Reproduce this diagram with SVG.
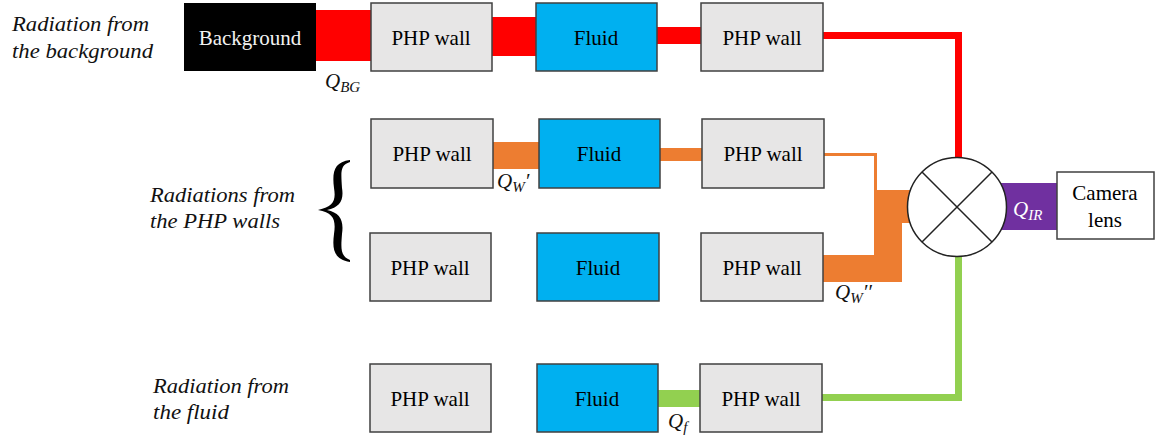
<svg xmlns="http://www.w3.org/2000/svg" width="1157" height="443" viewBox="0 0 1157 443" font-family="Liberation Serif, DejaVu Serif, serif">
<style>
.wall{fill:#e7e6e6;stroke:#404040;stroke-width:1.5}
.fluid{fill:#00b0f0;stroke:#404040;stroke-width:1.5}
.lbl{font-size:21px;fill:#000;text-anchor:middle}
.it{font-style:italic;font-size:21px;fill:#111}
.q{font-style:italic;font-size:21px;fill:#111}
.sub{font-size:15px}
</style>
<rect width="1157" height="443" fill="#fff"/>
<g id="connectors">
<rect x="316" y="10" width="55" height="51" fill="#ff0000"/>
<rect x="492" y="17" width="44" height="39" fill="#ff0000"/>
<rect x="657" y="27" width="44" height="17" fill="#ff0000"/>
<path d="M823,35.5 H958.5 V158" fill="none" stroke="#ff0000" stroke-width="7"/>
<rect x="493" y="142" width="46" height="27" fill="#ed7d31"/>
<rect x="660" y="148" width="42" height="13" fill="#ed7d31"/>
<path d="M824,154.5 H875.5 V256" fill="none" stroke="#ed7d31" stroke-width="3"/>
<polygon points="822,255 877,255 877,190 910,190 910,223 902,223 902,282 822,282" fill="#ed7d31"/>
<rect x="1000" y="183" width="57" height="47" fill="#7030a0"/>
<rect x="658" y="390" width="42" height="17" fill="#92d050"/>
<path d="M822,397.5 H958.5 V256" fill="none" stroke="#92d050" stroke-width="7"/>
</g>
<g id="sum">
<circle cx="957" cy="207" r="49.5" fill="#fff" stroke="#222" stroke-width="1.5"/>
<path d="M922,172 L992,242 M992,172 L922,242" stroke="#222" stroke-width="1.5"/>
</g>
<g id="bg"><rect x="184" y="3" width="132" height="68" fill="#000"/><text class="lbl" x="250" y="45" style="fill:#f2f2f2">Background</text></g>
<g id="w11"><rect class="wall" x="371" y="3" width="121" height="68"/><text class="lbl" x="431" y="45">PHP wall</text></g>
<g id="f12"><rect class="fluid" x="536" y="3" width="121" height="68"/><text class="lbl" x="596" y="45">Fluid</text></g>
<g id="w13"><rect class="wall" x="701" y="3" width="122" height="68"/><text class="lbl" x="762" y="45">PHP wall</text></g>
<g id="w21"><rect class="wall" x="371" y="119" width="122" height="69"/><text class="lbl" x="432" y="161">PHP wall</text></g>
<g id="f22"><rect class="fluid" x="539" y="119" width="121" height="69"/><text class="lbl" x="599" y="161">Fluid</text></g>
<g id="w23"><rect class="wall" x="702" y="119" width="122" height="69"/><text class="lbl" x="763" y="161">PHP wall</text></g>
<g id="w31"><rect class="wall" x="370" y="233" width="121" height="68"/><text class="lbl" x="430" y="275">PHP wall</text></g>
<g id="f32"><rect class="fluid" x="537" y="233" width="122" height="68"/><text class="lbl" x="598" y="275">Fluid</text></g>
<g id="w33"><rect class="wall" x="701" y="233" width="122" height="68"/><text class="lbl" x="762" y="275">PHP wall</text></g>
<g id="w41"><rect class="wall" x="370" y="364" width="121" height="68"/><text class="lbl" x="430" y="406">PHP wall</text></g>
<g id="f42"><rect class="fluid" x="537" y="364" width="121" height="68"/><text class="lbl" x="597" y="406">Fluid</text></g>
<g id="w43"><rect class="wall" x="700" y="364" width="122" height="68"/><text class="lbl" x="761" y="406">PHP wall</text></g>
<g id="cam"><rect x="1057" y="172" width="97" height="67" fill="#fff" stroke="#404040" stroke-width="1.5"/><text class="lbl" x="1105" y="200">Camera</text><text class="lbl" x="1105" y="227">lens</text></g>
<g id="labels">
<text class="it" x="12" y="31" textLength="137" lengthAdjust="spacingAndGlyphs">Radiation from</text>
<text class="it" x="12" y="58" textLength="141" lengthAdjust="spacingAndGlyphs">the background</text>
<text class="it" x="150" y="202" textLength="145" lengthAdjust="spacingAndGlyphs">Radiations from</text>
<text class="it" x="150" y="228" textLength="130" lengthAdjust="spacingAndGlyphs">the PHP walls</text>
<text class="it" x="153" y="393" textLength="136" lengthAdjust="spacingAndGlyphs">Radiation from</text>
<text class="it" x="153" y="419" textLength="76" lengthAdjust="spacingAndGlyphs">the fluid</text>
<path d="M350,160 C334,162 332,172 334,188 C336,200 334,207 318,210 C334,213 336,220 334,234 C332,250 334,259 350,262 L350,260 C340,256 341,248 342,234 C344,220 340,213 327,210 C340,207 344,200 342,188 C341,172 340,165 350,162 Z" fill="#000"/>
<text class="q" x="325" y="88">Q<tspan class="sub" dy="4">BG</tspan></text>
<text class="q" x="497" y="188">Q<tspan class="sub" dy="4">W</tspan><tspan dy="-4">′</tspan></text>
<text class="q" x="835" y="299">Q<tspan class="sub" dy="4">W</tspan><tspan dy="-4">′′</tspan></text>
<text class="q" x="668" y="428">Q<tspan class="sub" dy="4">f</tspan></text>
<text class="q" x="1013" y="216" style="fill:#fff">Q<tspan class="sub" dy="4">IR</tspan></text>
</g>
</svg>
